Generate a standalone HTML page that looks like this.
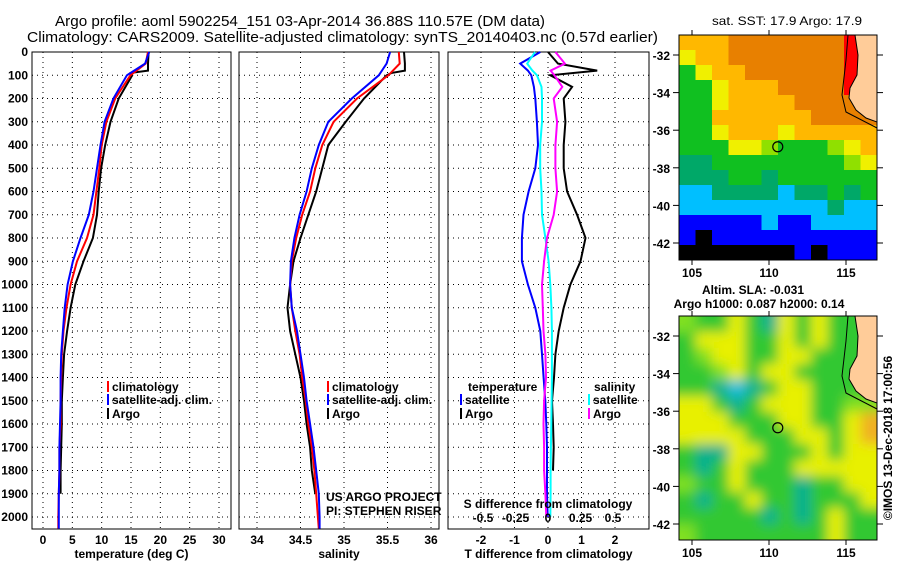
<!DOCTYPE html>
<html><head><meta charset="utf-8"><style>
html,body{margin:0;padding:0;background:#fff;}
svg{display:block;font-family:"Liberation Sans",sans-serif;}
.b{font-weight:bold;font-size:12px;}
</style></head><body>
<svg id="s" width="900" height="580" viewBox="0 0 900 580">
<defs>
<clipPath id="c1"><rect x="679" y="35" width="198" height="225"/></clipPath>
<clipPath id="c2"><rect x="679" y="316" width="198" height="224"/></clipPath>
<filter id="bl" x="-20%" y="-20%" width="140%" height="140%"><feGaussianBlur stdDeviation="6"/></filter>
</defs>
<text x="55" y="26" font-size="15" textLength="490" lengthAdjust="spacingAndGlyphs">Argo profile: aoml 5902254_151 03-Apr-2014 36.88S 110.57E (DM data)</text>
<text x="27" y="42" font-size="15" textLength="631" lengthAdjust="spacingAndGlyphs">Climatology: CARS2009. Satellite-adjusted climatology: synTS_20140403.nc (0.57d earlier)</text>
<text x="712" y="25" font-size="12" textLength="150" lengthAdjust="spacingAndGlyphs">sat. SST: 17.9 Argo: 17.9</text>
<g id="g"></g>
</svg>
<script>
// ---- data ----
const depths=[0,50,100,200,300,400,500,600,700,800,900,1000,1100,1200,1300,1400,1500,1600,1700,1800,1900,2000,2050];
const tempClim=[17.9,17.5,14.9,12.3,10.8,10.0,9.6,9.1,8.6,7.5,5.8,4.7,4.0,3.5,3.2,3.1,3.0,3.0,2.8,2.8,2.7,2.6,2.6];
const tempSat=[18.1,17.4,14.3,12.0,10.5,9.8,9.2,8.6,7.8,6.4,5.1,4.2,3.7,3.4,3.1,3.0,3.0,2.9,2.8,2.8,2.7,2.7,2.7];
const argoDepths=[0,50,80,90,100,200,300,400,500,600,700,800,900,1000,1100,1200,1300,1400,1500,1600,1700,1800,1900];
const tempArgo=[18.0,17.9,17.9,15.0,15.2,12.9,11.5,10.6,9.9,9.5,9.2,8.5,6.9,5.5,4.7,4.1,3.6,3.4,3.2,3.2,3.1,3.0,3.0];
const salClim=[35.63,35.64,35.51,35.15,34.88,34.75,34.67,34.61,34.52,34.45,34.40,34.38,34.40,34.44,34.49,34.52,34.56,34.59,34.63,34.66,34.68,34.70,34.71];
const salSat=[35.53,35.49,35.40,35.09,34.82,34.71,34.63,34.57,34.49,34.43,34.39,34.38,34.40,34.46,34.50,34.54,34.57,34.61,34.65,34.68,34.71,34.72,34.72];
const salArgo=[35.69,35.70,35.70,35.55,35.49,35.23,35.02,34.82,34.75,34.68,34.59,34.50,34.42,34.38,34.35,34.38,34.44,34.50,34.54,34.57,34.61,34.63,34.67];
const diffDepths=[0,50,80,100,150,200,300,400,500,600,700,800,900,1000,1100,1200,1300,1400,1500,1600,1700,1800,1900,2000];
const dTsat=[-0.23,-0.83,-0.6,-0.5,-0.42,-0.38,-0.33,-0.3,-0.38,-0.58,-0.73,-0.78,-0.78,-0.6,-0.38,-0.23,-0.18,-0.13,-0.08,-0.05,-0.03,-0.03,-0.03,-0.01];
const dTargo=[0,0.3,1.47,0.07,0.72,0.47,0.52,0.47,0.47,0.57,0.87,1.12,0.97,0.67,0.47,0.32,0.22,0.18,0.12,0.15,0.17,0.15,null,null];
const dSsat=[-0.1,-0.16,-0.12,-0.085,-0.05,-0.046,-0.046,-0.06,-0.06,-0.05,-0.046,-0.02,0.005,0.018,0.026,0.03,0.03,0.03,0.028,0.025,0.022,0.02,0.02,0.018];
const dSargo=[0.057,0.13,0.02,0.05,0.11,0.044,0.07,0.057,0.057,0.07,0.044,-0.008,-0.03,-0.046,-0.04,-0.035,-0.02,-0.015,-0.03,-0.035,-0.03,-0.03,-0.02,-0.013];
const depthTicks=[0,100,200,300,400,500,600,700,800,900,1000,1100,1200,1300,1400,1500,1600,1700,1800,1900,2000];
const tempTicks=[0,5,10,15,20,25,30];
const salTicks=[34,34.5,35,35.5,36];
const dTTicks=[-2,-1,0,1,2];
const dSTicks=[-0.5,-0.25,0,0.25,0.5];
const dSLabels=["-0.5","-0.25","0","0.25","0.5"];
const latTicks=[-32,-34,-36,-38,-40,-42];
const lonTicks=[105,110,115];
const argoLon=110.57, argoLat=-36.88;
const sstGrid=["aaaooooooorr","yaaooooooorr","gyaaoooooorr","ggyaaaoooorL","ggyaaaaooooL","ggaaaaaaoooo","ggyaaayaaaaa","gggyylggglya","ttggggggggly","tttggtgggggg","ccttttcttgtg","ccccccccctcc","bbbbbcbbcccc","bkbbbbbbbbbb","kkkkkkkbkbbb"];
const slaGrid=["lggygtygyggg","gyyyggygyggg","glyyggyygggg","gglygyyggggg","ggtctgyygggg","yygtgyyyggll","yyygggyyggyo","yyyygggyygyo","gttyygggygyy","gtgygggyyyyy","lggygggtggyy","gtggyggtgggy","gggggtgtgygg","lggggggggygg"];
// ---- helpers ----
const NS="http://www.w3.org/2000/svg";
const G=document.getElementById('g');
function mk(t,a,p){const e=document.createElementNS(NS,t);for(const k in a)e.setAttribute(k,a[k]);(p||G).appendChild(e);return e;}
const yD=d=>52+d*(465/2000);
const xT=t=>43+t*(176/30);
const xS=s=>257+(s-34)*87;
const xdT=t=>548+t*33.5;
const xdS=s=>548+s*130;
const x1=lo=>692+(lo-105)*15.4, y1=la=>55+(-32-la)*18.8, y2=la=>336+(-32-la)*18.8;
const panels=[[32,231,tempTicks,xT,t=>String(t),'temperature (deg C)','temperature-panel'],[239,439,salTicks,xS,t=>String(t),'salinity','salinity-panel'],[448,649,dTTicks,xdT,t=>String(t),'T difference from climatology','difference-panel']];
panels.forEach(([l,r,ticks,fx,fmt,title,nm])=>{
  const pg=mk('g',{});
  
  
  depthTicks.forEach(d=>{mk('line',{x1:l,x2:r,y1:yD(d),y2:yD(d),stroke:'#000','stroke-dasharray':'1,4','stroke-width':1},pg);});
  ticks.forEach(t=>{mk('line',{x1:fx(t),x2:fx(t),y1:52,y2:529,stroke:'#000','stroke-dasharray':'1,4'},pg);
    const tx=mk('text',{x:fx(t),y:544,'text-anchor':'middle',class:'b'},pg);tx.textContent=fmt(t);
    
    });
  mk('rect',{x:l,y:52,width:r-l,height:477,fill:'none',stroke:'#000','stroke-width':1},pg);
  const at=mk('text',{x:(l+r)/2,y:558,'text-anchor':'middle',class:'b'},pg);at.textContent=title;
  
  
});
depthTicks.forEach(d=>{const t=mk('text',{x:28,y:yD(d)+4,'text-anchor':'end',class:'b'});t.textContent=d;
  
  });
function line(xs,ds,fx,col,nm,w){let p='';xs.forEach((v,i)=>{if(v===null)return;p+=(p?'L':'M')+fx(v).toFixed(1)+','+yD(ds[i]).toFixed(1);});
  const e=mk('path',{d:p,fill:'none',stroke:col,'stroke-width':w||2});
  
  }
line(tempArgo,argoDepths,xT,'#000','temp-argo-line');
line(tempClim,depths,xT,'#f00','temp-climatology-line');
line(tempSat,depths,xT,'#00f','temp-satellite-line');
line(salArgo,argoDepths,xS,'#000','sal-argo-line');
line(salClim,depths,xS,'#f00','sal-climatology-line');
line(salSat,depths,xS,'#00f','sal-satellite-line');
line(dTsat,diffDepths,xdT,'#00f','dT-satellite-line');
line(dTargo,diffDepths,xdT,'#000','dT-argo-line');
line(dSsat,diffDepths,xdS,'#0ff','dS-satellite-line');
line(dSargo,diffDepths,xdS,'#f0f','dS-argo-line');
function txt(x,y,s,cls,nm,anchor,extra){const t=mk('text',Object.assign({x:x,y:y,class:cls||'b','text-anchor':anchor||'start'},extra||{}));t.textContent=s;
  
  return t;}
function leg(x,y,col,s,nm){mk('rect',{x:x,y:y-10,width:2,height:11,fill:col});txt(x+5,y,s,'b',nm);}
[[107],[327]].forEach(([x])=>{leg(x,391,'#f00','climatology','legend-climatology');leg(x,404,'#00f','satellite-adj. clim.','legend-satellite');leg(x,418,'#000','Argo','legend-argo');});
txt(468,391,'temperature','b','legend-temperature-header');
leg(460,404,'#00f','satellite','legend-t-satellite');leg(460,418,'#000','Argo','legend-t-argo');
txt(594,391,'salinity','b','legend-salinity-header');
leg(588,404,'#0ff','satellite','legend-s-satellite');leg(588,418,'#f0f','Argo','legend-s-argo');
txt(326,501,'US ARGO PROJECT','','credit-project','start',{'font-size':11});
txt(326,515,'PI: STEPHEN RISER','','credit-pi','start',{'font-size':11});
txt(548,508,'S difference from climatology','b','s-axis-title','middle');
dSTicks.forEach((s,i)=>txt(xdS(s),522,dSLabels[i],'b','s-tick-label','middle'));
// maps
const pal={k:'#000',b:'#0000ff',c:'#00bfff',t:'#00a868',g:'#10c020',l:'#90e000',y:'#f0f000',a:'#ffb800',o:'#e88000',r:'#ff0000',L:'#ffcc99'};
const pal2={k:'#000',t:'#00b090',c:'#20c0e0',g:'#30c830',l:'#80e020',y:'#e8f000',o:'#f0b020',L:'#ffcc99'};
function drawMap(grid,palette,top,h,clip,blur,nm){
  const mg=mk('g',{'clip-path':'url(#'+clip+')'});
  
  
  const inner=mk('g',blur?{filter:'url(#bl)'}:{},mg);
  const rows=grid.length,cols=grid[0].length,cw=198/cols,ch=h/rows,pad=blur?20:0;
  grid.forEach((row,r)=>{[...row].forEach((c,k)=>{
    let x=679+k*cw,y=top+r*ch,w=cw+0.6,hh=ch+0.6;
    if(k===0){x-=pad;w+=pad;} if(k===cols-1)w+=pad;
    if(r===0){y-=pad;hh+=pad;} if(r===rows-1)hh+=pad;
    const e=mk('rect',{x:x.toFixed(1),y:y.toFixed(1),width:w.toFixed(1),height:hh.toFixed(1),fill:palette[c]},inner);
    
    });});
  return mg;
}
const m1=drawMap(sstGrid,pal,35,225,'c1',false,'sst-map');
const m2=drawMap(slaGrid,pal2,316,224,'c2',true,'sla-map');
function land(mg,off){mk('path',{d:`M855,${35+off} L877,${35+off} L877,${122+off} L866,${118+off} L856,${110+off} L849,${98+off} L850,${88+off} L857,${75+off} L858,${55+off} Z`,fill:'#ffcc99',stroke:'#000','stroke-width':1},mg);
  mk('path',{d:`M848,${35+off} L846,${60+off} L842,${95+off} L846,${112+off} L877,${128+off}`,fill:'none',stroke:'#000','stroke-width':1},mg);}
land(m1,0);land(m2,281);
[[y1,35,260,'sst'],[y2,316,540,'sla']].forEach(([fy,top,bot,n])=>{
  mk('rect',{x:679,y:top,width:198,height:bot-top,fill:'none',stroke:'#000'});
  latTicks.forEach(la=>{const y=fy(la);mk('line',{x1:679,x2:673,y1:y,y2:y,stroke:'#000'});mk('line',{x1:877,x2:883,y1:y,y2:y,stroke:'#000'});
    txt(670,y+5,String(la),'b',n+'-lat-label','end');});
  lonTicks.forEach(lo=>{const x=x1(lo);mk('line',{x1:x,x2:x,y1:top,y2:top-5,stroke:'#000'});mk('line',{x1:x,x2:x,y1:bot,y2:bot+5,stroke:'#000'});
    txt(x,bot+17,String(lo),'b',n+'-lon-label','middle');});
  const cy=fy(argoLat);
  const c=mk('circle',{cx:x1(argoLon),cy:cy,r:5,fill:'none',stroke:'#000','stroke-width':1.2});
  
  
});
txt(753,294,'Altim. SLA: -0.031','b','sla-map-title','middle');
txt(759,308,'Argo h1000: 0.087 h2000: 0.14','b','sla-argo-heights','middle');
txt(0,0,'©IMOS 13-Dec-2018 17:00:56','','imos-credit','middle',{'font-size':12,transform:'translate(892,438) rotate(-90)'});
</script>
</body></html>
